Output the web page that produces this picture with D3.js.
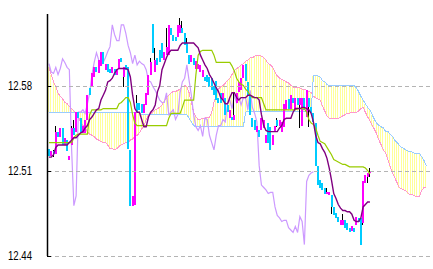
<!DOCTYPE html>
<html>
<head>
<meta charset="utf-8">
<script src="https://cdn.jsdelivr.net/npm/d3@7"></script>
<style>
html, body { margin: 0; padding: 0; background: #fff; }
svg { display: block; }
</style>
</head>
<body>
<svg id="chart"></svg>
<script>
// candles, one per bar
const opens = [
  12.528,12.522,12.526,12.524,12.542,12.538,12.545,12.531,12.535,12.519,
  12.531,12.545,12.542,12.558,12.553,12.541,12.541,12.552,12.578,12.580,
  12.587,12.595,12.590,12.596,12.608,12.593,12.598,12.594,12.590,12.594,
  12.589,12.594,12.603,12.587,12.597,12.595,12.527,12.481,12.482,12.566,
  12.566,12.565,12.557,12.564,12.572,12.589,12.631,12.591,12.603,12.609,
  12.615,12.601,12.605,12.605,12.627,12.622,12.620,12.620,12.623,12.627,
  12.623,12.615,12.605,12.599,12.603,12.594,12.594,12.591,12.587,12.587,
  12.589,12.587,12.586,12.580,12.584,12.570,12.574,12.568,12.570,12.564,
  12.553,12.554,12.552,12.566,12.575,12.576,12.586,12.598,12.583,12.572,
  12.553,12.552,12.542,12.543,12.543,12.545,12.533,12.549,12.546,12.531,
  12.542,12.552,12.547,12.542,12.546,12.560,12.569,12.561,12.570,12.560,
  12.570,12.564,12.547,12.570,12.554,12.570,12.562,12.557,12.549,12.514,
  12.502,12.500,12.496,12.491,12.490,12.490,12.480,12.475,12.472,12.465,
  12.465,12.469,12.467,12.463,12.460,12.463,12.465,12.471,12.471,12.467,
  12.500,12.505,12.508
];
const closes = [
  12.522,12.526,12.524,12.542,12.538,12.545,12.531,12.537,12.526,12.522,
  12.545,12.539,12.558,12.553,12.542,12.547,12.552,12.572,12.572,12.590,
  12.595,12.591,12.601,12.608,12.598,12.598,12.591,12.590,12.595,12.589,
  12.594,12.602,12.599,12.595,12.593,12.528,12.481,12.489,12.558,12.558,
  12.560,12.557,12.565,12.574,12.589,12.599,12.607,12.601,12.597,12.599,
  12.603,12.608,12.612,12.630,12.622,12.617,12.617,12.630,12.630,12.623,
  12.613,12.607,12.598,12.605,12.597,12.600,12.598,12.597,12.593,12.584,
  12.583,12.579,12.576,12.572,12.568,12.566,12.566,12.574,12.556,12.558,
  12.560,12.552,12.556,12.574,12.583,12.586,12.597,12.584,12.572,12.556,
  12.546,12.543,12.547,12.538,12.553,12.552,12.539,12.533,12.527,12.539,
  12.547,12.547,12.552,12.550,12.565,12.568,12.561,12.572,12.566,12.570,
  12.564,12.570,12.570,12.560,12.576,12.562,12.557,12.550,12.514,12.498,
  12.496,12.494,12.491,12.492,12.492,12.480,12.473,12.471,12.468,12.469,
  12.469,12.463,12.461,12.459,12.464,12.459,12.472,12.468,12.449,12.501,
  12.506,12.508,12.509
];
// visible shadows (bar index, high, low)
const wickIndex = [2, 3, 10, 11, 33, 39, 45, 47, 52, 58, 59, 61, 82, 101, 111, 115, 123, 125, 130, 139, 141, 142];
const wickHigh = [12.527,12.547,12.547,12.552,12.595,12.572,12.603,12.611,12.627,12.636,12.633,12.619,12.574,12.553,12.570,12.570,12.496,12.490,12.474,12.501,12.508,12.512];
const wickLow = [12.521,12.524,12.531,12.539,12.579,12.558,12.589,12.591,12.605,12.623,12.623,12.607,12.552,12.546,12.545,12.546,12.491,12.474,12.465,12.465,12.500,12.505];

const tenkan = [
  12.521,12.521,12.523,12.529,12.531,12.531,12.531,12.531,12.531,12.533,
  12.535,12.537,12.537,12.539,12.541,12.542,12.545,12.547,12.552,12.554,
  12.557,12.560,12.561,12.568,12.572,12.576,12.583,12.584,12.586,12.590,
  12.593,12.594,12.594,12.594,12.594,12.593,12.587,12.572,12.561,12.558,
  12.558,12.552,12.546,12.546,12.554,12.558,12.560,12.564,12.575,12.580,
  12.593,12.598,12.603,12.607,12.609,12.609,12.609,12.609,12.613,12.615,
  12.615,12.615,12.615,12.615,12.615,12.613,12.611,12.605,12.601,12.597,
  12.594,12.589,12.586,12.582,12.578,12.575,12.570,12.568,12.565,12.565,
  12.570,12.574,12.574,12.570,12.568,12.570,12.570,12.570,12.572,12.572,
  12.571,12.570,12.570,12.568,12.556,12.547,12.543,12.542,12.542,12.542,
  12.542,12.542,12.545,12.547,12.552,12.553,12.553,12.553,12.558,12.561,
  12.561,12.561,12.562,12.562,12.561,12.560,12.557,12.550,12.539,12.533,
  12.532,12.528,12.525,12.520,12.512,12.502,12.491,12.487,12.482,12.479,
  12.477,12.477,12.476,12.476,12.474,12.469,12.468,12.468,12.471,12.480,
  12.482,12.484,12.484
];
const kijun = [
  12.533,12.533,12.533,12.533,12.533,12.533,12.533,12.533,12.533,12.533,
  12.533,12.537,12.539,12.540,12.540,12.540,12.540,12.540,12.556,12.560,
  12.560,12.560,12.560,12.560,12.561,12.561,12.561,12.561,12.561,12.561,
  12.561,12.565,12.566,12.568,12.570,12.570,12.566,12.556,12.549,12.547,
  12.547,12.547,12.547,12.547,12.547,12.547,12.547,12.547,12.547,12.547,
  12.547,12.547,12.547,12.553,12.557,12.557,12.557,12.557,12.557,12.562,
  12.568,12.568,12.568,12.568,12.568,12.589,12.605,12.608,12.609,12.609,
  12.609,12.609,12.609,12.605,12.599,12.599,12.599,12.599,12.599,12.599,
  12.599,12.596,12.592,12.586,12.583,12.581,12.580,12.577,12.575,12.572,
  12.570,12.570,12.570,12.570,12.570,12.565,12.560,12.560,12.560,12.560,
  12.560,12.560,12.560,12.560,12.560,12.560,12.560,12.560,12.560,12.560,
  12.561,12.561,12.561,12.561,12.558,12.552,12.549,12.548,12.545,12.539,
  12.534,12.533,12.532,12.529,12.526,12.523,12.519,12.518,12.517,12.516,
  12.515,12.515,12.514,12.513,12.513,12.513,12.513,12.513,12.513,12.513,
  12.512,12.510,12.507
];
// leading spans, already shifted forward (cloud runs past the last bar)
const spanPink = [
  12.595,12.589,12.583,12.579,12.574,12.571,12.569,12.566,12.565,12.563,
  12.561,12.559,12.557,12.554,12.550,12.547,12.545,12.542,12.540,12.539,
  12.538,12.536,12.535,12.534,12.533,12.533,12.531,12.528,12.528,12.527,
  12.528,12.530,12.531,12.532,12.533,12.533,12.535,12.536,12.538,12.539,
  12.541,12.544,12.547,12.552,12.555,12.557,12.558,12.560,12.561,12.562,
  12.564,12.567,12.570,12.572,12.574,12.575,12.575,12.576,12.577,12.579,
  12.580,12.579,12.574,12.566,12.558,12.554,12.552,12.552,12.553,12.553,
  12.554,12.554,12.558,12.566,12.572,12.577,12.579,12.580,12.582,12.584,
  12.586,12.589,12.592,12.594,12.595,12.597,12.598,12.600,12.601,12.603,
  12.603,12.604,12.605,12.605,12.604,12.603,12.601,12.598,12.597,12.595,
  12.591,12.588,12.586,12.585,12.584,12.583,12.582,12.580,12.579,12.578,
  12.578,12.578,12.577,12.577,12.576,12.575,12.574,12.571,12.570,12.569,
  12.568,12.563,12.559,12.555,12.553,12.553,12.553,12.553,12.553,12.554,
  12.555,12.556,12.557,12.557,12.558,12.558,12.558,12.559,12.561,12.562,
  12.558,12.554,12.551,12.547,12.544,12.540,12.535,12.531,12.527,12.524,
  12.519,12.513,12.508,12.504,12.500,12.496,12.495,12.494,12.493,12.491,
  12.490,12.490,12.489,12.489,12.489,12.494,12.496,12.496
];
const spanBlue = [
  12.558,12.558,12.558,12.558,12.558,12.558,12.558,12.558,12.558,12.558,
  12.558,12.558,12.558,12.558,12.558,12.558,12.558,12.558,12.558,12.558,
  12.558,12.558,12.558,12.558,12.558,12.558,12.558,12.558,12.558,12.558,
  12.558,12.558,12.558,12.558,12.558,12.558,12.558,12.558,12.558,12.558,
  12.558,12.556,12.556,12.556,12.556,12.556,12.556,12.556,12.556,12.556,
  12.556,12.556,12.556,12.556,12.556,12.556,12.556,12.556,12.556,12.556,
  12.556,12.556,12.553,12.550,12.547,12.546,12.546,12.546,12.546,12.546,
  12.546,12.546,12.546,12.546,12.546,12.546,12.546,12.546,12.546,12.546,
  12.546,12.546,12.546,12.546,12.546,12.546,12.546,12.558,12.559,12.559,
  12.559,12.559,12.559,12.559,12.559,12.559,12.559,12.559,12.559,12.559,
  12.559,12.559,12.559,12.559,12.559,12.559,12.559,12.559,12.559,12.559,
  12.559,12.559,12.559,12.559,12.559,12.559,12.559,12.588,12.588,12.588,
  12.587,12.584,12.583,12.581,12.580,12.580,12.580,12.580,12.580,12.580,
  12.580,12.580,12.580,12.580,12.580,12.580,12.578,12.575,12.571,12.568,
  12.565,12.562,12.560,12.556,12.552,12.549,12.547,12.546,12.545,12.542,
  12.542,12.540,12.538,12.535,12.533,12.531,12.529,12.528,12.527,12.526,
  12.526,12.525,12.524,12.524,12.524,12.521,12.518,12.514
];
const chikouLag = 25;
const yTicks = [12.44, 12.51, 12.58];

const width = 433;
const height = 269;
const plotLeft = 48;
const plotTop = 14;

const svg = d3.select("#chart").attr("width", width).attr("height", height);

const x = d3.scaleLinear().domain([0, 170]).range([plotLeft, 432.2]);
const y = d3.scaleLinear().domain([12.44, 12.58]).range([255.5, 85.5]);

svg.append("defs").append("clipPath").attr("id", "plot")
    .append("rect").attr("x", plotLeft).attr("y", plotTop)
    .attr("width", width - plotLeft).attr("height", 256 - plotTop);

const g = svg.append("g").attr("clip-path", "url(#plot)");

// cloud, drawn as thin vertical stripes
g.append("g")
    .selectAll("line")
    .data(spanPink)
    .join("line")
    .attr("x1", (d, i) => Math.round(x(i)) + 0.5)
    .attr("x2", (d, i) => Math.round(x(i)) + 0.5)
    .attr("y1", d => y(d))
    .attr("y2", (d, i) => y(spanBlue[i]))
    .attr("stroke", "#ffff99")
    .attr("shape-rendering", "crispEdges");

// dashed grid
svg.append("g")
    .selectAll("line")
    .data(yTicks)
    .join("line")
    .attr("x1", plotLeft)
    .attr("x2", width)
    .attr("y1", d => Math.round(y(d)) + 0.5)
    .attr("y2", d => Math.round(y(d)) + 0.5)
    .attr("stroke", "#b4b4b4")
    .attr("stroke-dasharray", "4,3")
    .attr("shape-rendering", "crispEdges");

const line = d3.line()
    .x((d, i) => x(i) + 1)
    .y(d => y(d));

g.append("path").datum(spanPink).attr("d", line)
    .attr("fill", "none").attr("stroke", "#ff99cc").attr("stroke-width", 1)
    .attr("shape-rendering", "crispEdges");
g.append("path").datum(spanBlue).attr("d", line)
    .attr("fill", "none").attr("stroke", "#99ccff").attr("stroke-width", 1)
    .attr("shape-rendering", "crispEdges");

// lagging line: close plotted chikouLag bars back
g.append("path").datum(closes.slice(chikouLag)).attr("d", line)
    .attr("fill", "none").attr("stroke", "#cc99ff").attr("stroke-width", 1.2);

// candles
const candles = opens.map((o, i) => {
    const w = wickIndex.indexOf(i);
    const c = closes[i];
    return {
        i: i, o: o, c: c,
        hi: w >= 0 ? Math.max(o, c, wickHigh[w]) : Math.max(o, c),
        lo: w >= 0 ? Math.min(o, c, wickLow[w]) : Math.min(o, c)
    };
});

const cg = g.append("g").attr("shape-rendering", "crispEdges");
cg.selectAll("line")
    .data(candles.filter(d => wickIndex.includes(d.i)))
    .join("line")
    .attr("x1", d => Math.round(x(d.i)) + 0.5)
    .attr("x2", d => Math.round(x(d.i)) + 0.5)
    .attr("y1", d => y(d.hi))
    .attr("y2", d => y(d.lo))
    .attr("stroke", "#000");

cg.selectAll("rect")
    .data(candles)
    .join("rect")
    .attr("x", d => Math.round(x(d.i)))
    .attr("width", 2)
    .attr("y", d => y(Math.max(d.o, d.c)))
    .attr("height", d => Math.max(1, Math.abs(y(d.o) - y(d.c))))
    .attr("fill", d => d.c >= d.o ? "#ff00ff" : "#00ccff");

g.append("path").datum(kijun).attr("d", line)
    .attr("fill", "none").attr("stroke", "#99cc00").attr("stroke-width", 1.2);
g.append("path").datum(tenkan).attr("d", line)
    .attr("fill", "none").attr("stroke", "#800080").attr("stroke-width", 1.4);

// y axis
svg.append("line")
    .attr("x1", 47.5).attr("x2", 47.5)
    .attr("y1", plotTop).attr("y2", 256)
    .attr("stroke", "#000").attr("stroke-width", 1.5);

svg.append("g")
    .selectAll("line")
    .data(yTicks)
    .join("line")
    .attr("x1", 47).attr("x2", 51)
    .attr("y1", d => Math.round(y(d)) + 0.5)
    .attr("y2", d => Math.round(y(d)) + 0.5)
    .attr("stroke", "#000")
    .attr("shape-rendering", "crispEdges");

svg.append("g")
    .selectAll("text")
    .data(yTicks)
    .join("text")
    .attr("x", 8)
    .attr("y", d => y(d) + 4.5)
    .attr("textLength", 24)
    .attr("lengthAdjust", "spacingAndGlyphs")
    .attr("font-family", "'Liberation Sans', Arial, sans-serif")
    .attr("font-size", 12)
    .attr("fill", "#000")
    .text(d => d3.format(".2f")(d));
</script>
</body>
</html>
